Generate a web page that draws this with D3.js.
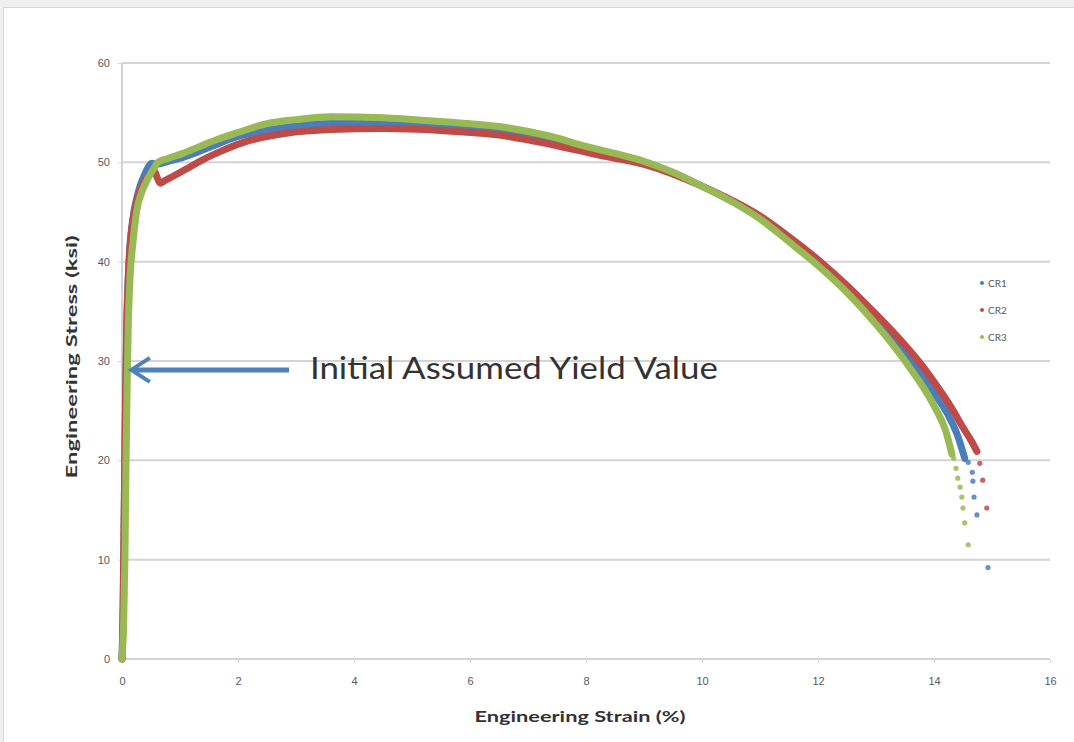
<!DOCTYPE html>
<html>
<head>
<meta charset="utf-8">
<script src="https://cdn.jsdelivr.net/npm/d3@7/dist/d3.min.js"></script>
<style>
  body { margin: 0; background: #f0f0f0; }
  svg { display: block; font-family: Lato, "Open Sans", sans-serif; }
  .tick text { fill: #595959; font-size: 11px; }
</style>
</head>
<body>
<div id="vis"></div>
<script>
// strain (%) vs stress (ksi)
var seriesNames = ['CR1', 'CR2', 'CR3'];
var seriesColors = ['#4a7ebb', '#be4b48', '#98b954'];

var cr1 = [[0,0],[0.02,5],[0.04,15],[0.06,25],[0.08,33],[0.12,40],[0.18,44],[0.28,47],[0.4,48.9],[0.52,49.9],
  [0.6,49.8],[0.8,50.1],[1.1,50.6],[1.5,51.5],[2,52.6],[2.8,53.5],[3.6,53.9],[4.5,53.9],[5.5,53.6],[6.5,53.2],
  [7.4,52.3],[8,51.5],[9,50],[10,47.6],[11,44.4],[12,39.9],[12.5,37.2],[13,34.2],[13.6,30],[14,26.8],
  [14.24,24.6],[14.4,22.6],[14.53,20.2]];
var cr2 = [[0,0],[0.01,2],[0.02,6],[0.04,16],[0.06,26],[0.08,33],[0.11,38.5],[0.15,42.3],[0.22,45.2],
  [0.32,47.3],[0.45,48.6],[0.56,49.1],[0.61,48.4],[0.66,47.9],[0.75,48.2],[0.88,48.6],[1.1,49.3],[1.34,50.1],
  [1.7,51.1],[2.2,52.2],[2.8,52.9],[3.6,53.3],[4.5,53.4],[5.5,53.2],[6.5,52.75],[7.4,51.8],[8.24,50.7],
  [9,49.8],[10,47.6],[11,44.6],[11.5,42.5],[12,40.2],[12.5,37.6],[13,34.7],[13.5,31.6],[13.76,29.8],
  [14,27.9],[14.3,25.3],[14.5,23.3],[14.65,21.9],[14.74,20.9]];
var cr3 = [[0,0],[0.03,4],[0.05,10],[0.07,20],[0.09,28],[0.11,34],[0.14,38.5],[0.19,42],[0.25,45],[0.34,47],
  [0.45,48.4],[0.55,49.4],[0.62,50],[0.8,50.4],[1.05,50.9],[1.34,51.6],[1.64,52.3],[2,53],[2.5,53.9],
  [3,54.3],[3.6,54.6],[4.5,54.5],[5.5,54.1],[6.5,53.6],[7.4,52.6],[8,51.6],[8.5,50.9],[9,50.1],[9.5,49],
  [10,47.6],[10.5,46.1],[11,44.3],[11.5,42],[12,39.6],[12.5,36.9],[13,33.7],[13.5,30],[14,25.5],
  [14.2,23],[14.31,20.6]];
// scattered points after the curves break away
var cr1Tail = [[14.59,19.8],[14.66,18.8],[14.67,17.9],[14.69,16.3],[14.74,14.5],[14.93,9.2]];
var cr2Tail = [[14.79,19.7],[14.84,18],[14.91,15.2]];
var cr3Tail = [[14.34,20.2],[14.38,19.2],[14.41,18.2],[14.45,17.3],[14.48,16.3],[14.5,15.2],[14.53,13.7],[14.59,11.5]];

var xTicks = [0, 2, 4, 6, 8, 10, 12, 14, 16];
var yTicks = [0, 10, 20, 30, 40, 50, 60];

var width = 1074, height = 742;
var grid = '#d4d4d4';

var svg = d3.select('#vis').append('svg')
  .attr('width', width)
  .attr('height', height);

// chart frame
svg.append('rect')
  .attr('x', 3.5).attr('y', 7.5)
  .attr('width', width).attr('height', height)
  .attr('fill', '#fff')
  .attr('stroke', '#d8d8d8');

var x = d3.scaleLinear().domain([0, 16]).range([122, 1050]);
var y = d3.scaleLinear().domain([0, 60]).range([659, 63]);

// gridlines
svg.append('g')
  .selectAll('line')
  .data(yTicks.slice(1))
  .enter().append('line')
  .attr('x1', x(0)).attr('x2', x(16))
  .attr('y1', function (d) { return y(d); })
  .attr('y2', function (d) { return y(d); })
  .attr('stroke', grid)
  .attr('stroke-width', 2);

var xAxis = svg.append('g')
  .attr('transform', 'translate(0,' + y(0) + ')')
  .call(d3.axisBottom(x).tickValues(xTicks).tickSize(4).tickPadding(14));
var yAxis = svg.append('g')
  .attr('transform', 'translate(' + x(0) + ',0)')
  .call(d3.axisLeft(y).tickValues(yTicks).tickSize(4).tickPadding(8));

[xAxis, yAxis].forEach(function (a) {
  a.select('.domain').attr('stroke', grid).attr('stroke-width', 2);
  a.selectAll('.tick line').attr('stroke', grid);
});
xAxis.select('.domain').attr('d', 'M' + x(0) + ',0H' + x(16));
yAxis.select('.domain').attr('d', 'M0,' + y(0) + 'V' + y(60));

// axis titles
svg.append('text')
  .attr('x', 580).attr('y', 722)
  .attr('text-anchor', 'middle')
  .attr('font-size', 16).attr('font-weight', 'bold')
  .attr('fill', '#333')
  .attr('textLength', 211).attr('lengthAdjust', 'spacingAndGlyphs')
  .text('Engineering Strain (%)');

svg.append('text')
  .attr('transform', 'translate(77,357) rotate(-90)')
  .attr('text-anchor', 'middle')
  .attr('font-size', 16).attr('font-weight', 'bold')
  .attr('fill', '#333')
  .attr('textLength', 243).attr('lengthAdjust', 'spacingAndGlyphs')
  .text('Engineering Stress (ksi)');

// curves
var line = d3.line()
  .x(function (d) { return x(d[0]); })
  .y(function (d) { return y(d[1]); })
  .curve(d3.curveMonotoneX);

var curves = [cr1, cr2, cr3];
var tails = [cr1Tail, cr2Tail, cr3Tail];

curves.forEach(function (c, i) {
  svg.append('path')
    .datum(c)
    .attr('d', line)
    .attr('fill', 'none')
    .attr('stroke', seriesColors[i])
    .attr('stroke-width', 7)
    .attr('stroke-linecap', 'round')
    .attr('stroke-linejoin', 'round');
});

tails.forEach(function (t, i) {
  svg.append('g')
    .selectAll('circle')
    .data(t)
    .enter().append('circle')
    .attr('cx', function (d) { return x(d[0]); })
    .attr('cy', function (d) { return y(d[1]); })
    .attr('r', 2.6)
    .attr('fill', seriesColors[i])
    .attr('opacity', 0.85);
});

// legend
var legend = svg.append('g')
  .selectAll('g')
  .data(seriesNames)
  .enter().append('g')
  .attr('transform', function (d, i) { return 'translate(982,' + (283 + i * 27) + ')'; });

legend.append('circle')
  .attr('r', 2)
  .attr('fill', function (d, i) { return seriesColors[i]; });

legend.append('text')
  .attr('x', 6).attr('y', 3.5)
  .attr('font-size', 10)
  .attr('fill', '#595959')
  .text(function (d) { return d; });

// annotation arrow
var arrowY = y(29.1);
svg.append('line')
  .attr('x1', x(2.88)).attr('x2', x(0.2))
  .attr('y1', arrowY).attr('y2', arrowY)
  .attr('stroke', '#4f81bd')
  .attr('stroke-width', 5);

svg.append('polyline')
  .attr('points', [[x(0.48), arrowY - 12], [x(0.16), arrowY], [x(0.48), arrowY + 12]].join(' '))
  .attr('fill', 'none')
  .attr('stroke', '#4f81bd')
  .attr('stroke-width', 4)
  .attr('stroke-linejoin', 'miter');

svg.append('text')
  .attr('x', x(3.24)).attr('y', y(28.2))
  .attr('font-size', 30)
  .attr('fill', '#333')
  .attr('textLength', 408).attr('lengthAdjust', 'spacingAndGlyphs')
  .text('Initial Assumed Yield Value');
</script>
</body>
</html>
